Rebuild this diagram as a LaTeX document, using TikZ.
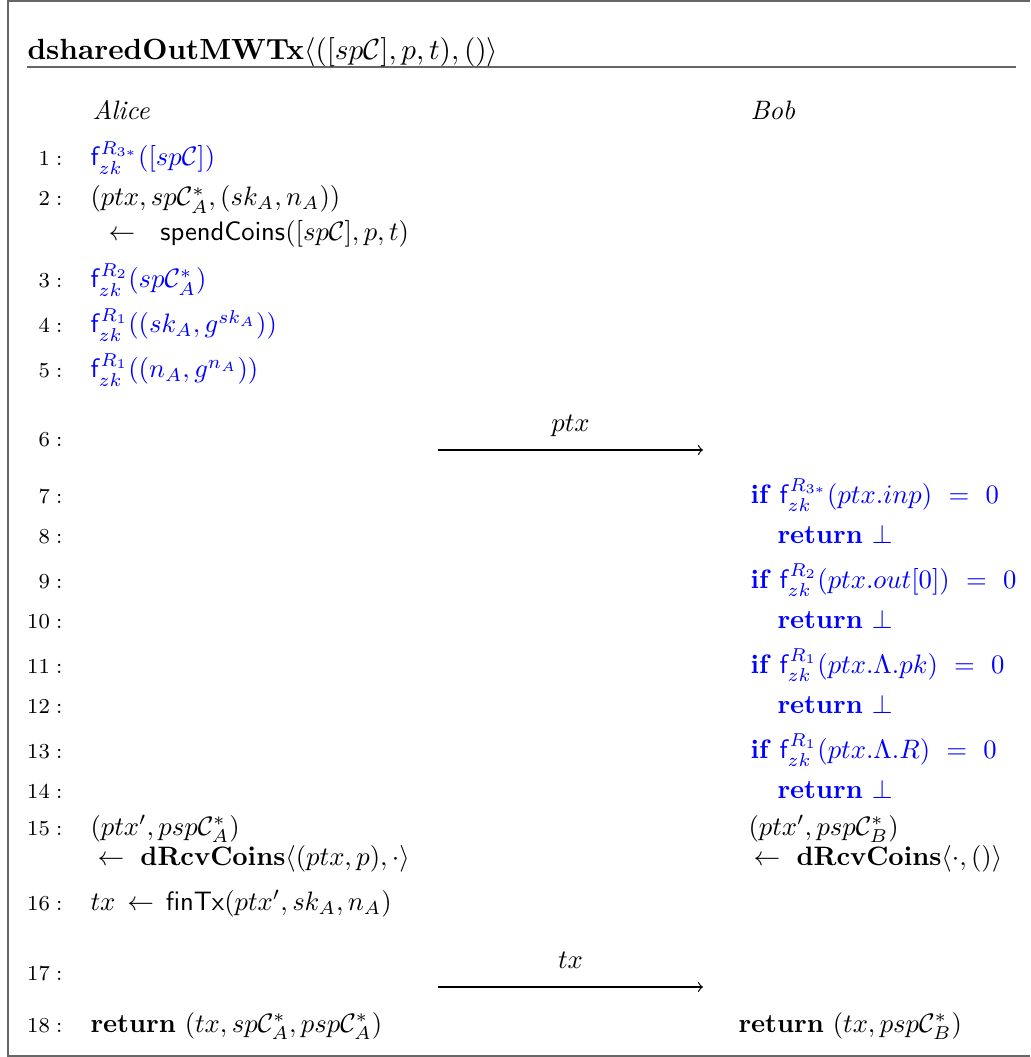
\documentclass[tikz,border=0pt]{standalone}
\usepackage{amsmath}
\usepackage{amssymb}
\begin{document}
\begin{tikzpicture}[x=0.375pt, y=-0.375pt,
    txt/.style={anchor=base west, inner sep=0pt},
    num/.style={anchor=base east, inner sep=0pt, font=\footnotesize},
    zk/.style={txt, text=blue},
    msg/.style={->, line width=0.45pt},
    frm/.style={draw=black!60, line width=0.75pt}]
  \useasboundingbox (0,0) rectangle (1030,1057);
  \draw[frm] (1030,0.7) -- (8,0.7) -- (8,1055.5) -- (1030,1055.5);
  \draw[frm] (27,67.5) -- (1015.5,67.5);

  \node[txt, name=title, font=\fontsize{10.95}{13}\selectfont] at (27,60) {\textbf{dsharedOutMWTx}$\langle([sp\mathcal{C}], p, t), ()\rangle$};
  \node[txt, name=alice] at (92,120) {\textit{Alice}};
  \node[txt, name=bob] at (750,120) {\textit{Bob}};

  \foreach \n/\y in {1/166, 2/206, 3/288, 4/333, 5/378, 6/447, 7/503, 8/543, 9/588,
      10/628, 11/673, 12/713, 13/758, 14/798, 15/835, 16/910, 17/980, 18/1032}
    \node[num, name=n\n] at (63,\y) {$\n:$};

  \node[zk, name=a1] at (90,166) {$\mathsf{f}_{zk}^{R_{3*}}([sp\mathcal{C}])$};
  \node[txt, name=a2] at (90,206) {$(ptx, sp\mathcal{C}^*_A, (sk_A, n_A))$};
  \node[txt, name=a2b] at (108,241) {$\leftarrow\ \ \mathsf{spendCoins}([sp\mathcal{C}], p, t)$};
  \node[zk, name=a3] at (90,288) {$\mathsf{f}_{zk}^{R_2}(sp\mathcal{C}^*_A)$};
  \node[zk, name=a4] at (90,333) {$\mathsf{f}_{zk}^{R_1}((sk_A, g^{sk_A}))$};
  \node[zk, name=a5] at (90,378) {$\mathsf{f}_{zk}^{R_1}((n_A, g^{n_A}))$};

  \coordinate (m1s) at (438,450);
  \coordinate (m1e) at (703,450);
  \draw[msg] (m1s) -- (m1e);
  \node[anchor=base, inner sep=0pt, name=m1] at (570.5,432) {$ptx$};

  \node[zk, name=b7] at (750,503) {\textbf{if} $\mathsf{f}_{zk}^{R_{3*}}(ptx.inp)\ =\ 0$};
  \node[zk, name=b8] at (777,543) {\textbf{return} $\bot$};
  \node[zk, name=b9] at (750,588) {\textbf{if} $\mathsf{f}_{zk}^{R_2}(ptx.out[0])\ =\ 0$};
  \node[zk, name=b10] at (777,628) {\textbf{return} $\bot$};
  \node[zk, name=b11] at (750,673) {\textbf{if} $\mathsf{f}_{zk}^{R_1}(ptx.\Lambda.pk)\ =\ 0$};
  \node[zk, name=b12] at (777,713) {\textbf{return} $\bot$};
  \node[zk, name=b13] at (750,758) {\textbf{if} $\mathsf{f}_{zk}^{R_1}(ptx.\Lambda.R)\ =\ 0$};
  \node[zk, name=b14] at (777,798) {\textbf{return} $\bot$};

  \node[txt, name=a15] at (90,835) {$(ptx', psp\mathcal{C}^*_A)$};
  \node[txt, name=a15b] at (97,865) {$\leftarrow\ \mathbf{dRcvCoins}\langle(ptx, p), \cdot\rangle$};
  \node[txt, name=b15] at (748,835) {$(ptx', psp\mathcal{C}^*_B)$};
  \node[txt, name=b15b] at (753,865) {$\leftarrow\ \mathbf{dRcvCoins}\langle\cdot, ()\rangle$};
  \node[txt, name=a16] at (90,910) {$tx \,\leftarrow\, \mathsf{finTx}(ptx', sk_A, n_A)$};

  \coordinate (m2s) at (438,987);
  \coordinate (m2e) at (703,987);
  \draw[msg] (m2s) -- (m2e);
  \node[anchor=base, inner sep=0pt, name=m2] at (570.5,968) {$tx$};

  \node[txt, name=a18] at (90,1032) {\textbf{return} $(tx, sp\mathcal{C}^*_A, psp\mathcal{C}^*_A)$};
  \node[txt, name=b18] at (738,1032) {\textbf{return} $(tx, psp\mathcal{C}^*_B)$};
\end{tikzpicture}
\end{document}
